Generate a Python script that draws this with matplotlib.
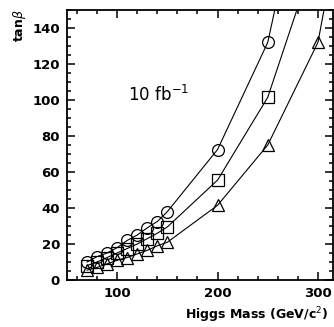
import matplotlib
matplotlib.use("Agg")
import matplotlib.pyplot as plt
from matplotlib.ticker import MultipleLocator

# Higgs mass points (GeV/c^2) and tan(beta) reach
mass_low = [70, 80, 90, 100, 110, 120, 130, 140, 150, 200, 250]
mass_tri = [70, 80, 90, 100, 110, 120, 130, 140, 150, 200, 250, 300]
tb_circle = [10, 13, 15, 18, 22, 25, 29, 32.5, 38, 72.5, 132]
tb_square = [8, 10, 12.5, 15, 17.5, 20, 23, 26, 29.5, 55.5, 101.5]
tb_triangle = [5.5, 7, 9, 11, 12.5, 14.5, 16.5, 19, 21, 41.5, 75, 132]

# where each curve leaves the top of the frame
exit_circle = (257, 150)
exit_square = (279, 150)
exit_triangle = (306, 150)

fig = plt.figure(figsize=(3.34, 3.27), dpi=100)
ax = fig.add_axes([67 / 334, 1 - 280 / 327, 266 / 334, 270 / 327])

series = [
    (mass_low, tb_circle, exit_circle, "o", 8.5),
    (mass_low, tb_square, exit_square, "s", 9),
    (mass_tri, tb_triangle, exit_triangle, "^", 8.5),
]
for xs, ys, ex, mk, ms in series:
    ax.plot(list(xs) + [ex[0]], list(ys) + [ex[1]], color="black", lw=0.8)
    ax.plot(xs, ys, linestyle="none", marker=mk, ms=ms, mfc="none",
            mec="black", mew=0.9)

ax.set_xlim(50, 315)
ax.set_ylim(0, 150)
ax.xaxis.set_major_locator(MultipleLocator(100))
ax.xaxis.set_minor_locator(MultipleLocator(20))
ax.yaxis.set_major_locator(MultipleLocator(20))
ax.yaxis.set_minor_locator(MultipleLocator(5))
ax.tick_params(which="both", direction="in", top=True, right=True,
               labelsize=9.5, width=1.1, pad=5)
ax.tick_params(which="major", length=6)
ax.tick_params(which="minor", length=3)
for lab in ax.get_xticklabels() + ax.get_yticklabels():
    lab.set_fontweight("bold")
for sp in ax.spines.values():
    sp.set_linewidth(1.3)

ax.text(111, 103, "10 fb$^{-1}$", fontsize=12, va="center", ha="left")

fig.text(185 / 334, 1 - 315 / 327, "Higgs Mass (GeV/c$^{2}$)", fontsize=9,
         fontweight="bold", ha="left", va="center")
fig.text(20 / 334, 1 - 26 / 327, r"tan$\beta$", fontsize=9, fontweight="bold",
         rotation=90, ha="center", va="center")

fig.savefig("out.png", dpi=100)
